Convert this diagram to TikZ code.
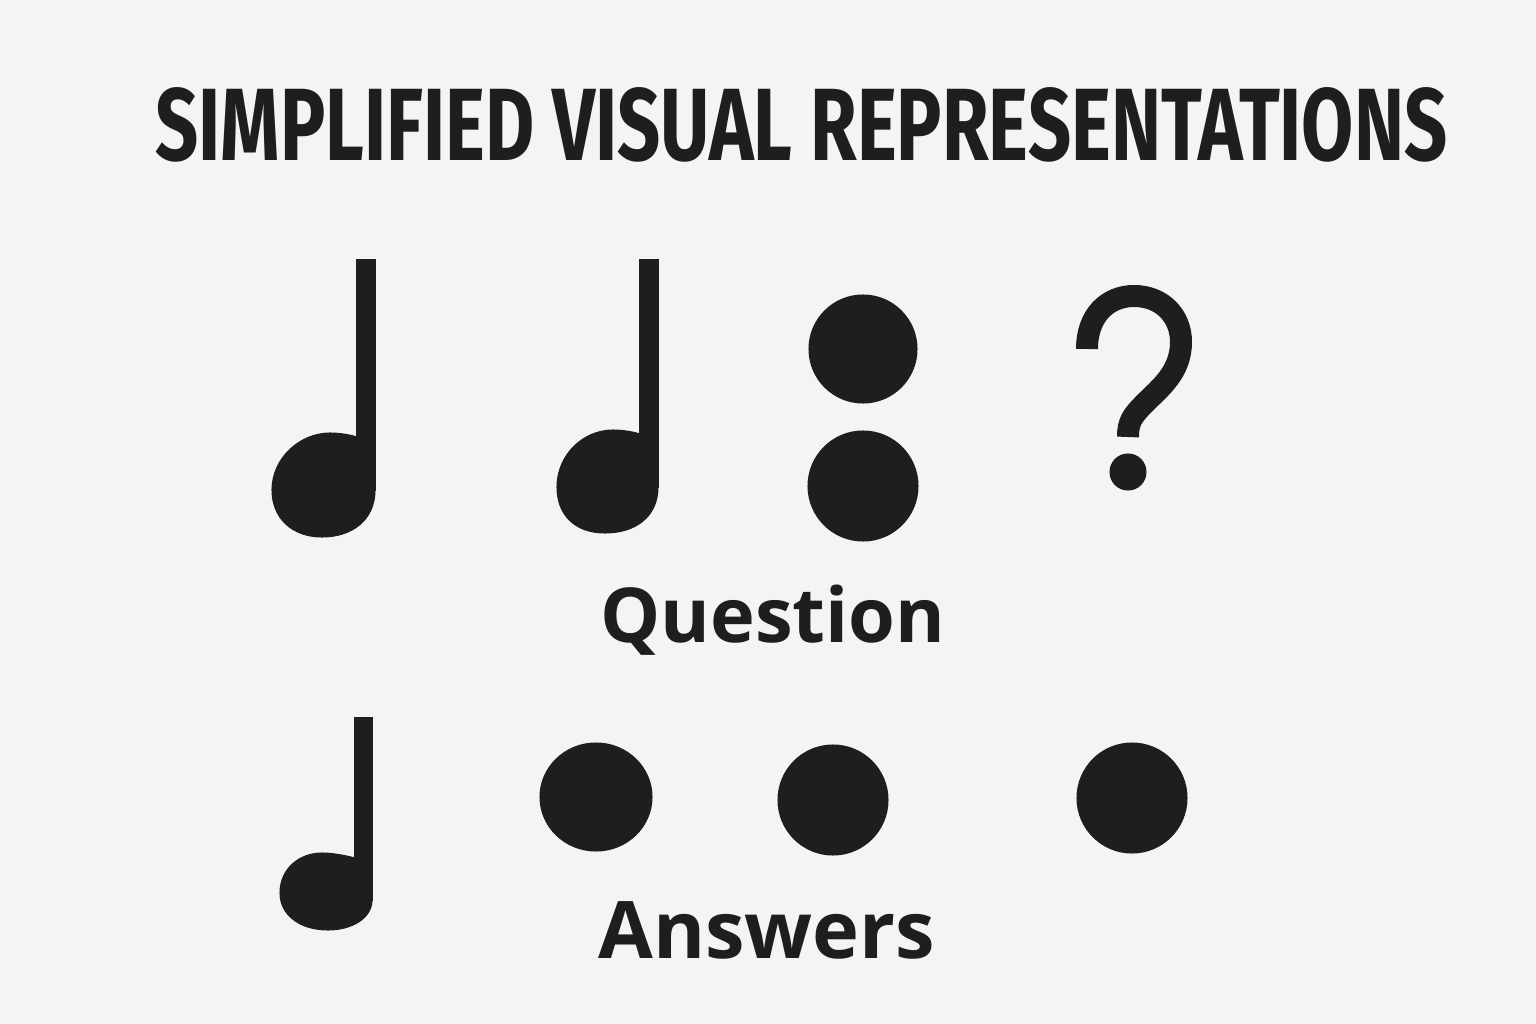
\documentclass[tikz,border=0pt]{standalone}
\usepackage{fontspec}
\setmainfont{Open Sans}
\newfontfamily\titlefont{Fira Sans}
\definecolor{paper}{HTML}{F4F4F2}
\definecolor{ink}{HTML}{1E1E1E}
\begin{document}
\begin{tikzpicture}[x=0.02cm,y=-0.02cm,
  inkfill/.style={fill=ink,draw=ink,line width=0.6pt},
  lbl/.style={inner sep=0pt,text=ink,anchor=base west}]
\fill[paper] (0,0) rectangle (1536,1024);
\useasboundingbox (0,0) rectangle (1536,1024);
% title
\node[inner sep=0pt,text=ink,anchor=base west] (title) at (155,160)
  {\resizebox{25.84cm}{1.46cm}{\titlefont\bfseries SIMPLIFIED VISUAL REPRESENTATIONS}};
% quarter note 1
\fill[inkfill] (357,260) rectangle (375,490);
\fill[inkfill] (375,490) .. controls (375,520) and (352,537) .. (322,537)
  .. controls (292,537) and (272,518) .. (272,490)
  .. controls (272,458) and (300,433) .. (330,433)
  .. controls (345,433) and (357,437) .. (357,437) -- (375,437) -- cycle;
% quarter note 2
\begin{scope}[shift={(283,-3)}]
\fill[inkfill] (357,263) rectangle (375,490);
\fill[inkfill] (375,490) .. controls (375,520) and (352,536) .. (322,536)
  .. controls (292,536) and (274,518) .. (274,490)
  .. controls (274,458) and (300,433) .. (330,433)
  .. controls (345,433) and (357,437) .. (357,437) -- (375,437) -- cycle;
\end{scope}
% two stacked dots
\fill[inkfill] (863,349) ellipse [x radius=54,y radius=54];
\fill[inkfill] (863,486) ellipse [x radius=55,y radius=55];
% question mark
\draw[ink,line width=0.44cm,line cap=butt]
  (1087,349) .. controls (1087,315) and (1108,296) .. (1134,296)
  .. controls (1162,296) and (1181,316) .. (1181,342)
  .. controls (1181,372) and (1160,388) .. (1145,403)
  .. controls (1132,416) and (1128,422) .. (1128,437);
\fill[inkfill] (1128,472) circle [radius=18];
% Question label
\node[lbl] (question) at (600,642) {\resizebox{6.9cm}{!}{\bfseries\color{ink}Question}};
% answer row
\fill[inkfill] (355,718) rectangle (372,900);
\fill[inkfill] (372,900) .. controls (372,918) and (352,930) .. (328,930)
  .. controls (300,930) and (280,915) .. (280,893)
  .. controls (280,868) and (300,853) .. (322,853)
  .. controls (337,853) and (355,858) .. (355,858) -- (372,858) -- cycle;
\fill[inkfill] (596,797) ellipse [x radius=56,y radius=54];
\fill[inkfill] (833,800) circle [radius=55];
\fill[inkfill] (1132,798) circle [radius=55];
\node[lbl] (answers) at (598,958) {\resizebox{6.74cm}{!}{\bfseries\color{ink}Answers}};
\end{tikzpicture}
\end{document}
